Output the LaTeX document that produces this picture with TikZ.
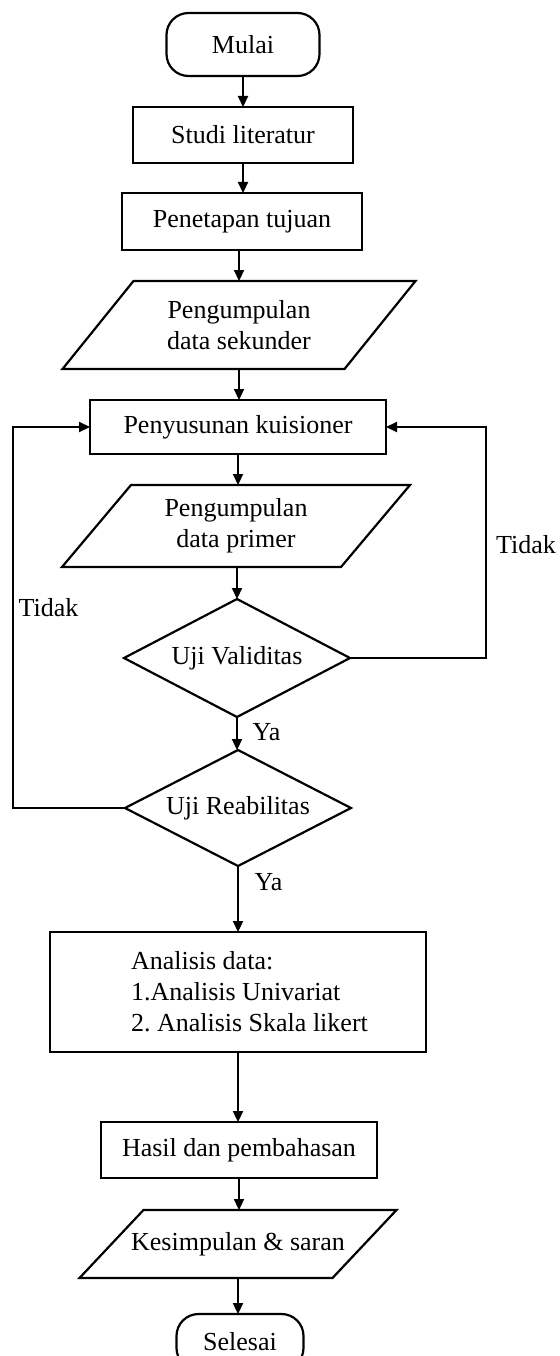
\documentclass[tikz,border=0pt]{standalone}
\usepackage{fontspec}
\setmainfont{Liberation Serif}
\usetikzlibrary{shapes.geometric,arrows.meta}
\frenchspacing
\begin{document}
\begin{tikzpicture}[x=1pt,y=-1pt,
  every node/.style={font=\fontsize{26}{31}\selectfont, inner sep=0pt, outer sep=0pt},
  box/.style={draw, line width=2.2pt, rectangle},
  term/.style={draw, line width=2.2pt, rectangle, rounded corners=22pt},
  paranode/.style={rectangle, align=center},
  paraline/.style={line width=2.2pt, line join=miter},
  decision/.style={draw, line width=2.2pt, diamond, aspect=2},
  conn/.style={line width=2.2pt, -{Triangle[length=11pt,width=10pt]}},
  lbl/.style={text=black}]
\useasboundingbox (0,0) rectangle (559,1356);
\clip (0,0) rectangle (559,1356);

% nodes
\node[term, minimum width=153pt, minimum height=63pt] (mulai) at (243,44.5) {Mulai};
\node[box, minimum width=220pt, minimum height=56pt] (studi) at (243,135) {Studi literatur};
\node[box, minimum width=240pt, minimum height=57pt] (penetapan) at (242,221.5) {Penetapan tujuan};
\node[paranode, minimum width=353pt, minimum height=88pt] (sekunder) at (239,325) {Pengumpulan\\data sekunder};
\draw[paraline] ([xshift=71pt]sekunder.north west) -- (sekunder.north east) -- ([xshift=-71pt]sekunder.south east) -- (sekunder.south west) -- cycle;
\node[box, minimum width=296pt, minimum height=54pt] (penyusunan) at (238,427) {Penyusunan kuisioner};
\node[paranode, minimum width=348pt, minimum height=82pt] (primer) at (236,526) {Pengumpulan\\data primer};
\draw[paraline] ([xshift=69pt]primer.north west) -- (primer.north east) -- ([xshift=-69pt]primer.south east) -- (primer.south west) -- cycle;
\node[decision, minimum width=226pt, minimum height=118pt] (validitas) at (237,658) {Uji Validitas};
\node[decision, minimum width=226pt, minimum height=116pt] (reabilitas) at (238,808) {Uji Reabilitas};
\node[box, minimum width=376pt, minimum height=120pt] (analisis) at (238,992) {};
\node[anchor=west, align=left] (analisistxt) at (131,992) {Analisis data:\\1.Analisis Univariat\\2. Analisis Skala likert};
\node[box, minimum width=276pt, minimum height=56pt] (hasil) at (239,1150) {Hasil dan pembahasan};
\node[paranode, minimum width=317pt, minimum height=68pt] (kesimpulan) at (238,1244) {Kesimpulan \& saran};
\draw[paraline] ([xshift=64pt]kesimpulan.north west) -- (kesimpulan.north east) -- ([xshift=-64pt]kesimpulan.south east) -- (kesimpulan.south west) -- cycle;
\node[term, minimum width=127pt, minimum height=56pt] (selesai) at (240,1342) {Selesai};

% labels
\node[lbl] (ya1) at (266.5,732) {Ya};
\node[lbl] (ya2) at (268.5,882) {Ya};
\node[lbl] (tidakl) at (48.5,608) {Tidak};
\node[lbl] (tidakr) at (526,545) {Tidak};

% connectors
\draw[conn] (mulai.south) -- (mulai.south |- studi.north);
\draw[conn] (studi.south) -- (studi.south |- penetapan.north);
\draw[conn] (penetapan.south -| sekunder.north) -- (sekunder.north);
\draw[conn] (sekunder.south) -- (sekunder.south |- penyusunan.north);
\draw[conn] (penyusunan.south) -- (penyusunan.south |- primer.north);
\draw[conn] (primer.south -| validitas.north) -- (validitas.north);
\draw[conn] (validitas.south) -- (validitas.south |- reabilitas.north);
\draw[conn] (reabilitas.south) -- (reabilitas.south |- analisis.north);
\draw[conn] (analisis.south) -- (analisis.south |- hasil.north);
\draw[conn] (hasil.south) -- (hasil.south |- kesimpulan.north);
\draw[conn] (kesimpulan.south) -- (kesimpulan.south |- selesai.north);
\draw[conn] (validitas.east) -- ++(136,0) |- (penyusunan.east);
\draw[conn] (reabilitas.west) -- ++(-112,0) |- (penyusunan.west);
\end{tikzpicture}
\end{document}
